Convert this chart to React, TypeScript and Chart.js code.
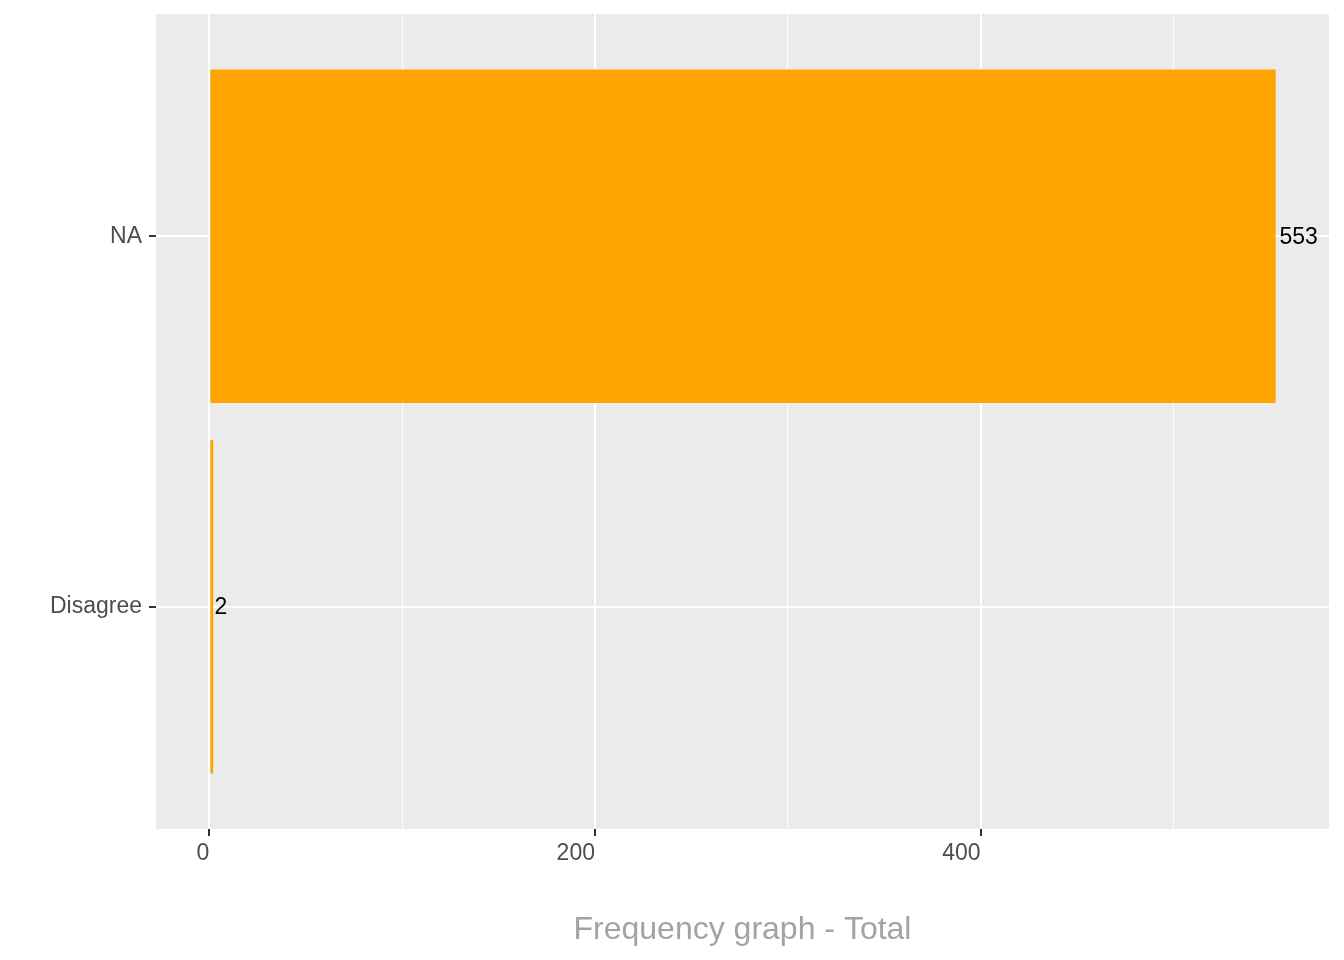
import React, { useEffect, useRef } from "react";
import { Chart, registerables } from "chart.js";

Chart.register(...registerables);

const categories: string[] = ["NA", "Disagree"];
const counts: number[] = [553, 2];
const xTickValues: number[] = [0, 100, 200, 300, 400, 500];
const xTickLabelValues: number[] = [0, 200, 400];
const axisTitle = "Frequency graph - Total";

const FONT = "'Liberation Sans', Arial, sans-serif";

export default function App() {
  const ref = useRef<HTMLCanvasElement | null>(null);

  useEffect(() => {
    if (!ref.current) return;
    const maxV = Math.max(...counts);
    const expand = maxV * 0.05;
    const catMin = -0.6;
    const catMax = categories.length - 1 + 0.6;

    const bgPlugin = {
      id: "panelBg",
      beforeDraw(chart: any) {
        const { ctx, chartArea } = chart;
        ctx.save();
        ctx.fillStyle = "#EBEBEB";
        ctx.fillRect(chartArea.left, chartArea.top, chartArea.right - chartArea.left, chartArea.bottom - chartArea.top);
        ctx.restore();
      },
    };

    const labelPlugin = {
      id: "barLabels",
      afterDatasetsDraw(chart: any) {
        const { ctx } = chart;
        const meta = chart.getDatasetMeta(0);
        ctx.save();
        ctx.font = `23px ${FONT}`;
        ctx.fillStyle = "#000000";
        ctx.textAlign = "left";
        ctx.textBaseline = "middle";
        meta.data.forEach((bar: any, i: number) => {
          const txt = String(counts[i]);
          const w = ctx.measureText(txt).width;
          ctx.fillText(txt, bar.x + 0.1 * w, bar.y + 1);
        });
        ctx.restore();
      },
    };

    const chart = new Chart(ref.current, {
      type: "bar",
      data: {
        labels: categories,
        datasets: [
          {
            data: counts,
            backgroundColor: "#FFA500",
            borderWidth: 0,
            categoryPercentage: 1,
            barPercentage: 0.9,
          },
        ],
      },
      plugins: [bgPlugin, labelPlugin],
      options: {
        indexAxis: "y",
        responsive: false,
        animation: false,
        layout: { padding: { left: 0, top: 14, right: 15, bottom: 0 } },
        plugins: {
          legend: { display: false },
          tooltip: { enabled: false },
        },
        scales: {
          x: {
            type: "linear",
            min: -expand,
            max: maxV + expand,
            afterBuildTicks: (scale: any) => {
              scale.ticks = xTickValues.map((v) => ({ value: v }));
            },
            afterFit: (scale: any) => {
              scale.height = 131;
              scale.paddingLeft = 0;
              scale.paddingRight = 0;
            },
            border: { display: false },
            grid: {
              color: "#FFFFFF",
              lineWidth: (c: any) => (xTickLabelValues.includes(c.tick?.value) ? 2 : 1),
              tickLength: 7,
              tickWidth: 2,
              tickColor: (c: any) => (xTickLabelValues.includes(c.tick?.value) ? "#333333" : "rgba(0,0,0,0)"),
            },
            ticks: {
              autoSkip: false,
              maxRotation: 0,
              align: "end",
              padding: 4,
              color: "#4D4D4D",
              font: { family: FONT, size: 23 },
              callback: (v: any) => (xTickLabelValues.includes(Number(v)) ? String(v) : ""),
            },
            title: {
              display: true,
              text: axisTitle,
              color: "#A3A3A3",
              font: { family: FONT, size: 32 },
              padding: { top: 0, bottom: 11 },
            },
          },
          y: {
            type: "category",
            offset: false,
            afterBuildTicks: (scale: any) => {
              scale.ticks = categories.map((_, i) => ({ value: i }));
              scale._startValue = catMin;
              scale._valueRange = catMax - catMin;
            },
            afterFit: (scale: any) => {
              scale.width = 156;
              scale.paddingTop = 0;
              scale.paddingBottom = 0;
            },
            border: { display: false },
            grid: {
              offset: false,
              color: "#FFFFFF",
              lineWidth: 2,
              tickLength: 7,
              tickWidth: 2,
              tickColor: "#333333",
            },
            ticks: {
              autoSkip: false,
              padding: 7,
              color: "#4D4D4D",
              font: { family: FONT, size: 23 },
            },
          },
        },
      } as any,
    });
    return () => chart.destroy();
  }, []);

  return (
    <div style={{ position: "fixed", left: 0, top: 0, width: 1344, height: 960, background: "#FFFFFF" }}>
      <canvas ref={ref} width={1344} height={960} style={{ display: "block" }} />
    </div>
  );
}
